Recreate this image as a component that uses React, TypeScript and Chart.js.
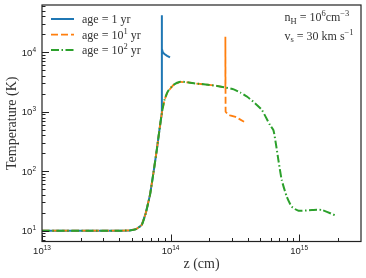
import React, { useEffect, useRef } from "react";
import { Chart, registerables } from "chart.js";
Chart.register(...registerables);

// Shared rising part of the profile (z in cm, T in K)
const zRise = [1e13, 2e13, 3e13, 4e13, 4.8e13, 5.4e13, 5.97e13, 6.41e13, 6.92e13, 7.35e13, 7.81e13, 8.19e13, 8.55e13];
const tRise = [10, 10, 10, 10, 10.1, 10.6, 12.5, 19.6, 40, 92, 227, 492, 940];

// age = 10^2 yr continuation
const zGreenTail = [8.96e13, 9.5e13, 1.05e14, 1.19e14, 1.38e14, 1.55e14, 1.94e14, 2.3e14, 2.67e14, 3.1e14, 3.5e14, 3.95e14, 4.55e14, 5.13e14, 5.94e14, 6.31e14, 6.59e14, 6.9e14, 7.33e14, 8.02e14, 8.77e14, 9.9e14, 1.26e15, 1.5e15, 1.96e15];
const tGreenTail = [1575, 2170, 2810, 3190, 3110, 3000, 2850, 2720, 2560, 2380, 2100, 1786, 1384, 1070, 597, 492, 294, 154, 71, 37.3, 25.3, 21.7, 22.3, 22.3, 17.7];

// age = 1 yr continuation
const zBlueTail = [8.55e13, 8.57e13, 8.7e13, 8.96e13, 9.4e13, 9.9e13];
const tBlueTail = [42000, 11500, 10000, 9330, 8700, 8200];

// age = 10 yr continuation (after following the 10^2 yr curve up to 2.67e14)
const zOrangeTail = [2.67e14, 2.68e14, 2.8e14, 2.9e14, 3.2e14, 3.73e14];
const tOrangeTail = [18200, 1000, 900, 870, 820, 680];

const xMajorExps = [13, 14, 15];
const yMajorExps = [1, 2, 3, 4];

const seriesColors = ["#1f77b4", "#ff7f0e", "#2ca02c"];
const legendSup = ["", "1", "2"];

type Part = { t: string; k?: "sup" | "sub" };

function pts(zs: number[], ts: number[]) {
  return zs.map((z, i) => ({ x: z, y: ts[i] }));
}

function drawRich(ctx: CanvasRenderingContext2D, parts: Part[], x: number, y: number, align: "left" | "center" | "right", size: number, small: number, family: string, supRaise: number, subDrop: number) {
  const fontFor = (p: Part) => `${p.k ? small : size}px ${family}`;
  let w = 0;
  const widths = parts.map((p) => {
    ctx.font = fontFor(p);
    const m = ctx.measureText(p.t).width;
    w += m;
    return m;
  });
  let cx = align === "left" ? x : align === "center" ? x - w / 2 : x - w;
  ctx.textAlign = "left";
  ctx.textBaseline = "alphabetic";
  parts.forEach((p, i) => {
    ctx.font = fontFor(p);
    const dy = p.k === "sup" ? -supRaise : p.k === "sub" ? subDrop : 0;
    ctx.fillText(p.t, cx, y + dy);
    cx += widths[i];
  });
}

const SERIF = '"Liberation Serif", "DejaVu Serif", serif';
const SANS = '"Liberation Sans", "DejaVu Sans", sans-serif';

const decorPlugin = {
  id: "decor",
  afterDraw(chart: any) {
    const { ctx, chartArea: a, scales } = chart;
    const xs = scales.x;
    const ys = scales.y;
    ctx.save();
    ctx.strokeStyle = "#222";
    ctx.fillStyle = "#222";
    ctx.lineWidth = 1;
    // x ticks (inward, bottom only)
    for (let e = 13; e <= 15; e++) {
      for (let m = 1; m <= 9; m++) {
        const v = m * Math.pow(10, e);
        if (v < xs.min * 0.999 || v > xs.max * 0.99) continue;
        const px = Math.round(xs.getPixelForValue(v)) + 0.5;
        const len = m === 1 ? 7 : 3.5;
        ctx.beginPath();
        ctx.moveTo(px, a.bottom);
        ctx.lineTo(px, a.bottom - len);
        ctx.stroke();
      }
    }
    // y ticks (inward, left only)
    for (let e = 0; e <= 4; e++) {
      for (let m = 1; m <= 9; m++) {
        const v = m * Math.pow(10, e);
        if (v < ys.min * 1.001 || v > ys.max * 0.999) continue;
        const py = Math.round(ys.getPixelForValue(v)) + 0.5;
        const len = m === 1 ? 7 : 3.5;
        ctx.beginPath();
        ctx.moveTo(a.left, py);
        ctx.lineTo(a.left + len, py);
        ctx.stroke();
      }
    }
    // frame
    ctx.lineWidth = 1.2;
    ctx.strokeRect(a.left, a.top, a.right - a.left, a.bottom - a.top);

    // tick labels
    ctx.fillStyle = "#222";
    xMajorExps.forEach((e) => {
      const px = xs.getPixelForValue(Math.pow(10, e));
      drawRich(ctx, [{ t: "10" }, { t: String(e), k: "sup" }], px, 254, "center", 9.5, 6.5, SANS, 4, 0);
    });
    yMajorExps.forEach((e) => {
      const py = ys.getPixelForValue(Math.pow(10, e));
      drawRich(ctx, [{ t: "10" }, { t: String(e), k: "sup" }], 36, py + 3.6, "right", 9.5, 6.5, SANS, 4, 0);
    });

    // axis titles
    ctx.fillStyle = "#333";
    ctx.font = `14px ${SERIF}`;
    ctx.textAlign = "center";
    ctx.textBaseline = "alphabetic";
    ctx.fillText("z (cm)", (a.left + a.right) / 2, 268);
    ctx.save();
    ctx.translate(16, (a.top + a.bottom) / 2);
    ctx.rotate(-Math.PI / 2);
    ctx.fillText("Temperature (K)", 0, 0);
    ctx.restore();

    // legend
    const legendY = [19, 34.7, 50];
    const dashes = [[], [7, 3], [8, 2.5, 1.5, 2.5]];
    const widthsL = [2, 1.8, 2];
    legendY.forEach((ly, i) => {
      ctx.strokeStyle = seriesColors[i];
      ctx.lineWidth = widthsL[i];
      ctx.setLineDash(dashes[i]);
      ctx.beginPath();
      ctx.moveTo(51, ly);
      ctx.lineTo(74, ly);
      ctx.stroke();
      ctx.setLineDash([]);
      ctx.fillStyle = "#333";
      const parts: Part[] = legendSup[i]
        ? [{ t: "age = 10" }, { t: legendSup[i], k: "sup" }, { t: " yr" }]
        : [{ t: "age = 1 yr" }];
      drawRich(ctx, parts, 82, ly + 3.8, "left", 12, 8.5, SERIF, 5, 0);
    });

    // annotation
    ctx.fillStyle = "#333";
    drawRich(ctx, [{ t: "n" }, { t: "H", k: "sub" }, { t: " = 10" }, { t: "6", k: "sup" }, { t: "cm" }, { t: "\u22123", k: "sup" }], 284.5, 21, "left", 12, 8.5, SERIF, 5, 2.5);
    drawRich(ctx, [{ t: "v" }, { t: "s", k: "sub" }, { t: " = 30 km s" }, { t: "\u22121", k: "sup" }], 284.5, 39.5, "left", 12, 8.5, SERIF, 5, 2.5);
    ctx.restore();
  },
};

export default function App() {
  const ref = useRef<HTMLCanvasElement>(null);
  useEffect(() => {
    if (!ref.current) return;
    const cut = zGreenTail.indexOf(2.67e14) + 1;
    const blue = pts(zRise, tRise).concat(pts(zBlueTail, tBlueTail));
    const orange = pts(zRise, tRise)
      .concat(pts(zGreenTail.slice(0, cut), tGreenTail.slice(0, cut)))
      .concat(pts(zOrangeTail, tOrangeTail));
    const green = pts(zRise, tRise).concat(pts(zGreenTail, tGreenTail));
    const chart = new Chart(ref.current, {
      type: "scatter",
      data: {
        datasets: [
          { label: "age = 1 yr", data: blue, showLine: true, borderColor: seriesColors[0], borderWidth: 2, pointRadius: 0, tension: 0, order: 3 },
          { label: "age = 10 yr", data: orange, showLine: true, borderColor: seriesColors[1], borderWidth: 1.8, borderDash: [7, 3], pointRadius: 0, tension: 0, order: 2 },
          { label: "age = 100 yr", data: green, showLine: true, borderColor: seriesColors[2], borderWidth: 2, borderDash: [8, 2.5, 1.5, 2.5], pointRadius: 0, tension: 0.2, order: 1 },
        ],
      },
      options: {
        animation: false,
        responsive: false,
        devicePixelRatio: 1,
        layout: { padding: { left: 42, right: 5, top: 5, bottom: 36.5 } },
        plugins: { legend: { display: false }, tooltip: { enabled: false } },
        scales: {
          x: { type: "logarithmic", min: 1e13, max: 3.03e15, display: false },
          y: { type: "logarithmic", min: 6.58, max: 6.24e4, display: false },
        },
      },
      plugins: [decorPlugin],
    } as any);
    return () => chart.destroy();
  }, []);
  return (
    <div style={{ position: "fixed", left: 0, top: 0, width: 366, height: 278, background: "#fff" }}>
      <canvas ref={ref} width={366} height={278} />
    </div>
  );
}
